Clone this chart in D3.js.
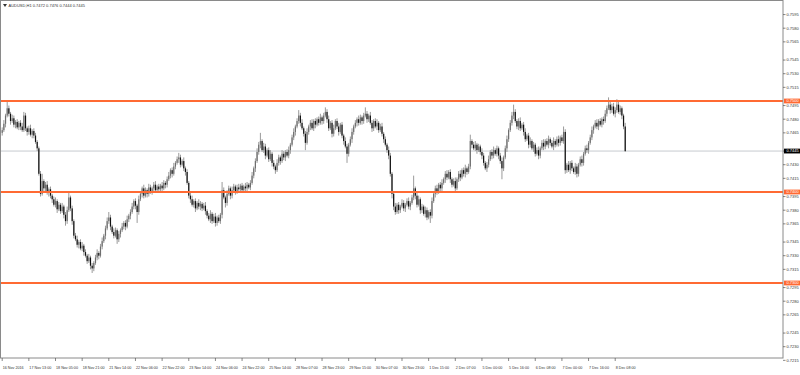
<!DOCTYPE html>
<html><head><meta charset="utf-8">
<script src="https://cdn.jsdelivr.net/npm/d3@7"></script>
<style>html,body{margin:0;padding:0;background:#fff;}svg{display:block;}</style>
</head><body>
<svg id="c" width="800" height="375"></svg>
<script>
// ---- data (prices in pips, 1 pip = 0.0001) ----
const symbol = "AUDUSD,H1";
const lastOHLC = ["0.7472", "0.7476", "0.7444", "0.7445"];
const firstOpen = 7465;
const closes = [
7468,7475,7484,7492,7486,7478,7481,7474,7477,7471,
7476,7472,7468,7484,7470,7466,7470,7463,7467,7462,
7455,7448,7420,7398,7412,7404,7408,7399,7403,7396,
7392,7386,7390,7381,7386,7379,7384,7375,7368,7380,
7394,7382,7368,7352,7348,7342,7345,7338,7341,7334,
7330,7324,7328,7319,7316,7322,7328,7333,7330,7340,
7346,7352,7360,7368,7372,7362,7356,7352,7358,7348,
7354,7358,7362,7366,7362,7370,7374,7378,7384,7390,
7385,7378,7392,7398,7404,7396,7402,7398,7405,7400,
7404,7408,7402,7406,7403,7407,7404,7410,7408,7414,
7418,7424,7420,7428,7432,7436,7438,7430,7434,7426,
7422,7410,7396,7392,7386,7390,7382,7388,7384,7387,
7382,7385,7379,7374,7370,7376,7368,7373,7366,7372,
7368,7375,7402,7394,7388,7398,7404,7396,7402,7406,
7401,7405,7403,7407,7402,7406,7404,7408,7405,7410,
7418,7426,7434,7444,7452,7456,7446,7450,7440,7446,
7436,7442,7432,7428,7424,7432,7438,7434,7442,7438,
7444,7440,7446,7452,7460,7466,7472,7478,7484,7476,
7470,7464,7454,7466,7472,7476,7470,7478,7474,7480,
7476,7482,7478,7484,7488,7480,7470,7476,7464,7470,
7478,7472,7466,7474,7462,7456,7450,7442,7452,7458,
7466,7472,7476,7480,7476,7482,7478,7484,7486,7480,
7484,7476,7470,7478,7472,7476,7468,7472,7464,7458,
7452,7446,7440,7420,7398,7384,7378,7386,7380,7384,
7388,7382,7386,7390,7384,7388,7394,7404,7396,7386,
7392,7380,7384,7376,7380,7372,7378,7374,7390,7398,
7404,7400,7408,7404,7410,7414,7420,7416,7422,7414,
7408,7412,7404,7414,7420,7416,7424,7420,7426,7422,
7428,7456,7452,7448,7452,7446,7450,7444,7440,7432,
7426,7430,7436,7444,7440,7446,7442,7448,7440,7434,
7426,7438,7448,7458,7468,7476,7484,7488,7478,7472,
7478,7470,7474,7466,7458,7462,7452,7456,7448,7452,
7442,7446,7440,7448,7454,7450,7456,7452,7458,7454,
7450,7456,7452,7458,7454,7460,7456,7466,7424,7430,
7424,7432,7426,7422,7428,7420,7430,7436,7432,7442,
7448,7446,7454,7460,7468,7472,7476,7472,7478,7474,
7480,7478,7486,7492,7496,7490,7494,7486,7490,7496,
7488,7492,7484,7472,7445];
const wickUp = [
3,4,2,8,3,2,4,3,2,3, 2,3,4,4,3,2,3,4,2,3, 3,2,2,3,8,2,3,4,2,3, 2,3,4,2,3,2,4,2,3,4,
6,2,3,2,3,4,2,3,4,2, 3,2,4,2,3,2,3,4,2,3, 4,2,3,4,6,3,2,4,3,2, 3,2,4,2,3,4,2,3,4,2,
3,2,4,3,2,4,3,2,4,3, 2,3,4,2,3,2,4,3,2,3, 4,2,3,4,2,3,5,3,2,4, 2,3,2,3,4,2,3,2,4,3,
2,3,4,2,3,4,2,3,4,2, 3,2,9,3,2,4,3,2,4,3, 2,3,4,2,3,2,4,3,2,3, 4,2,3,4,3,9,2,4,3,2,
3,4,2,3,2,4,3,2,4,3, 2,3,4,2,3,4,2,3,6,3, 4,2,3,4,2,3,4,2,3,2, 3,4,2,3,5,3,4,2,3,4,
2,3,4,2,3,2,4,3,2,3, 4,2,3,2,4,3,2,3,7,3, 2,4,3,2,3,4,2,3,4,2, 3,2,4,3,2,3,4,2,3,2,
4,3,2,3,4,2,3,14,2,3, 4,2,3,2,4,3,2,3,4,2, 3,4,2,3,4,2,3,4,2,3, 2,3,4,2,3,4,2,3,4,2,
3,7,2,3,4,2,3,2,4,3, 2,3,4,2,3,4,2,3,2,3, 4,2,3,4,2,3,4,8,3,2, 3,4,2,3,4,2,3,4,2,3,
2,3,4,2,3,4,2,3,4,2, 3,4,2,3,4,2,3,6,3,2, 4,2,3,2,4,3,2,3,4,2, 3,4,2,3,4,2,3,4,2,3,
2,3,4,3,8,4,3,4,3,6, 4,3,2,2,4];
const wickDn = [
3,2,4,2,3,4,2,3,4,2, 3,4,2,2,3,4,3,2,4,3, 2,3,2,3,2,4,3,2,4,3, 4,2,3,4,2,3,2,4,5,3,
2,3,4,3,2,3,4,2,3,4, 2,3,2,4,5,3,2,3,4,2, 3,2,4,2,3,4,2,3,2,5, 3,4,2,3,4,2,3,4,2,3,
4,12,3,2,4,3,2,4,3,2, 3,4,2,3,2,4,3,2,4,3, 2,3,4,2,3,2,4,3,2,3, 4,2,3,4,2,3,4,2,3,4,
3,2,4,3,2,4,3,2,4,3, 2,3,4,2,5,3,2,4,3,2, 4,3,2,4,3,2,4,3,2,3, 2,3,4,2,3,4,2,3,4,2,
3,2,4,3,4,2,3,4,2,3, 4,2,3,4,2,3,4,2,3,4, 2,3,8,2,3,4,2,3,4,2, 3,2,4,3,2,4,3,2,4,3,
2,3,4,2,3,4,2,10,3,2, 4,3,2,4,3,2,4,3,2,4, 3,2,4,3,2,4,3,2,3,4, 2,3,4,3,5,4,3,2,4,3,
2,3,4,2,3,4,2,3,4,3, 2,4,3,2,4,3,2,8,3,2, 4,3,2,4,3,2,4,3,2,4, 3,2,4,2,3,4,2,3,4,3,
2,3,4,2,3,4,2,3,4,3, 2,4,3,2,4,3,2,3,4,3, 12,3,2,4,3,2,3,4,2,3, 4,3,2,4,3,2,4,3,2,4,
3,2,4,3,2,4,3,2,4,3, 2,4,3,2,4,3,2,3,4,3, 2,4,3,2,3,4,3,2,4,3, 2,3,4,2,3,4,2,3,4,2,
3,4,2,3,2,4,3,2,4,3, 2,3,4,3,1];
const levelLines = [0.7500, 0.7400, 0.7300];
const bidPrice = 0.7445;
const priceTicks = [0.7595,0.7580,0.7565,0.7545,0.7530,0.7515,0.7495,0.7480,0.7465,0.7445,0.7430,0.7415,
  0.7395,0.7380,0.7365,0.7345,0.7330,0.7315,0.7295,0.7280,0.7265,0.7245,0.7230,0.7215];
const timeLabels = ["16 Nov 2016","17 Nov 13:00","18 Nov 05:00","18 Nov 21:00","21 Nov 14:00","22 Nov 06:00",
  "22 Nov 22:00","23 Nov 14:00","24 Nov 06:00","24 Nov 22:00","25 Nov 14:00","28 Nov 07:00","28 Nov 23:00",
  "29 Nov 15:00","30 Nov 07:00","30 Nov 23:00","1 Dec 15:00","2 Dec 07:00","5 Dec 00:00","5 Dec 16:00",
  "6 Dec 08:00","7 Dec 00:00","7 Dec 16:00","8 Dec 08:00"];
const barsPerLabel = 16;

// ---- build ----
const bars = closes.map((c, i) => {
  const o = i ? closes[i - 1] : firstOpen;
  return { i, o: o / 1e4, c: c / 1e4,
           h: (Math.max(o, c) + wickUp[i]) / 1e4,
           l: (Math.min(o, c) - wickDn[i]) / 1e4 };
});

const P = { left: 1, top: 1, right: 783, bottom: 358 };
const x = d3.scaleLinear().domain([0, 469]).range([2.2, 2.2 + 469 * 1.6658]);
const y = d3.scaleLinear().domain([0.7200, 0.7610]).range([374, 0.9]);
const font = "'Liberation Sans', Arial, sans-serif";

const svg = d3.select("#c");
svg.append("rect").attr("width", 800).attr("height", 375).attr("fill", "#fff");
svg.append("clipPath").attr("id", "clip").append("rect")
  .attr("x", P.left).attr("y", P.top).attr("width", P.right - P.left).attr("height", P.bottom - P.top);

const g = svg.append("g").attr("clip-path", "url(#clip)");

// bid line
g.append("line").attr("x1", P.left).attr("x2", P.right)
  .attr("y1", y(bidPrice)).attr("y2", y(bidPrice))
  .attr("stroke", "#c6cacf").attr("stroke-width", 1);

// bars
g.append("g").selectAll("line").data(bars).join("line")
  .attr("x1", d => x(d.i)).attr("x2", d => x(d.i))
  .attr("y1", d => y(d.h)).attr("y2", d => y(d.l))
  .attr("stroke", "#9a9a9a").attr("stroke-width", 1);
g.append("g").selectAll("rect").data(bars).join("rect")
  .attr("x", d => x(d.i) - 0.6).attr("width", 1.2)
  .attr("y", d => y(Math.max(d.o, d.c)))
  .attr("height", d => Math.max(0.6, Math.abs(y(d.o) - y(d.c))))
  .attr("fill", d => d.c < d.o ? "#111" : "#6e6e6e");

// level lines
g.append("g").selectAll("line").data(levelLines).join("line")
  .attr("x1", P.left).attr("x2", P.right)
  .attr("y1", d => y(d)).attr("y2", d => y(d))
  .attr("stroke", "#ff6a33").attr("stroke-width", 2);

// frame
svg.append("rect").attr("x", P.left - 0.5).attr("y", P.top - 0.5)
  .attr("width", P.right - P.left + 0.5).attr("height", P.bottom - P.top + 0.5)
  .attr("fill", "none").attr("stroke", "#8a8a8a").attr("stroke-width", 1);

// price axis
const pa = svg.append("g");
pa.selectAll("line").data(priceTicks).join("line")
  .attr("x1", P.right).attr("x2", P.right + 2.5)
  .attr("y1", d => y(d)).attr("y2", d => y(d))
  .attr("stroke", "#555").attr("stroke-width", 0.7);
pa.selectAll("text").data(priceTicks).join("text")
  .attr("x", P.right + 3.5).attr("y", d => y(d)).attr("dy", "0.35em")
  .attr("font-family", font).attr("font-size", 4).attr("fill", "#333")
  .text(d => d.toFixed(4));

function priceTag(v, bg) {
  pa.append("rect").attr("x", P.right + 1).attr("y", y(v) - 2.4)
    .attr("width", 16).attr("height", 4.8).attr("fill", bg);
  pa.append("text").attr("x", P.right + 3.5).attr("y", y(v)).attr("dy", "0.35em")
    .attr("font-family", font).attr("font-size", 4).attr("fill", "#fff").text(v.toFixed(4));
}
levelLines.forEach(v => priceTag(v, "#ff6a33"));
priceTag(bidPrice, "#000");

// time axis
const ta = svg.append("g");
const tIdx = timeLabels.map((t, k) => ({ t, i: k * barsPerLabel }));
ta.selectAll("line").data(tIdx).join("line")
  .attr("x1", d => x(d.i)).attr("x2", d => x(d.i))
  .attr("y1", P.bottom).attr("y2", P.bottom + 3)
  .attr("stroke", "#555").attr("stroke-width", 0.7);
ta.selectAll("text").data(tIdx).join("text")
  .attr("x", d => x(d.i) + 0.5).attr("y", 368.5)
  .attr("font-family", font).attr("font-size", 3.7).attr("fill", "#333")
  .text(d => d.t);

// title
svg.append("path").attr("d", "M3,4 L7,4 L5,7 Z").attr("fill", "#333");
svg.append("text").attr("x", 8.5).attr("y", 7)
  .attr("font-family", font).attr("font-size", 4).attr("fill", "#333")
  .text(symbol + "  " + lastOHLC.join(" "));
</script>
</body></html>
